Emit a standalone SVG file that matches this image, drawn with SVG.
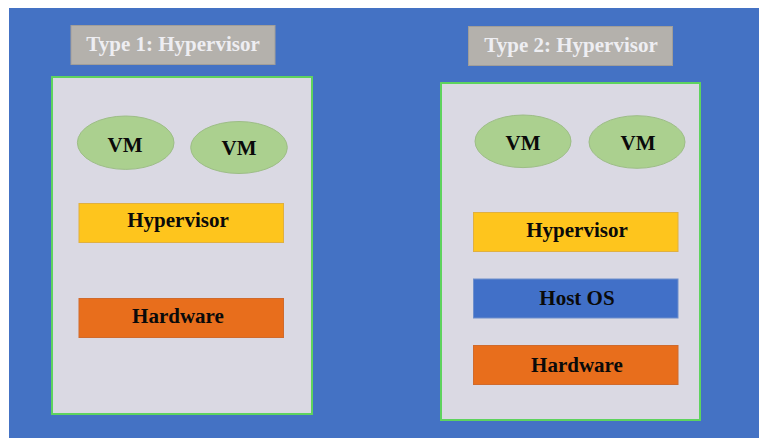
<svg xmlns="http://www.w3.org/2000/svg" width="759" height="438" viewBox="0 0 759 438">
  <style>
    .title-box { fill: #B4B1AC; stroke: #A19E99; stroke-width: 1; }
    .title { font-family: "Liberation Serif", "Times New Roman", serif; font-weight: bold; font-size: 21px; fill: #EEEEF2; text-anchor: middle; }
    .panel { fill: #DAD9E3; stroke: #5ED35E; stroke-width: 2; }
    .vm { fill: #ABD08F; stroke: #9DBD87; stroke-width: 1; }
    .layer-hv { fill: #FEC51D; stroke: #E0B040; stroke-width: 1; }
    .layer-hw { fill: #E86E1C; stroke: #D06A2C; stroke-width: 1; }
    .layer-os { fill: #4170C8; stroke: #6E8FCC; stroke-width: 1; }
    .label { font-family: "Liberation Serif", "Times New Roman", serif; font-weight: bold; font-size: 21px; fill: #0A0A0A; text-anchor: middle; }
  </style>

  <!-- page background -->
  <rect x="0" y="0" width="759" height="438" fill="#FFFFFF"/>
  <rect x="9" y="8" width="750" height="430" fill="#4472C4"/>

  <!-- Type 1 stack -->
  <g id="type1-title">
    <rect class="title-box" x="71" y="25.5" width="204" height="39"/>
    <text class="title" x="173" y="51">Type 1: Hypervisor</text>
  </g>
  <g id="type1-panel">
    <rect class="panel" x="52" y="77" width="260" height="337"/>
  </g>
  <g id="type1-vm1">
    <ellipse class="vm" cx="125.7" cy="142.7" rx="48.3" ry="26.7"/>
    <text class="label" x="125" y="151.5">VM</text>
  </g>
  <g id="type1-vm2">
    <ellipse class="vm" cx="239" cy="147.5" rx="48.3" ry="26"/>
    <text class="label" x="239" y="155">VM</text>
  </g>
  <g id="type1-hypervisor">
    <rect class="layer-hv" x="79" y="203.5" width="204.5" height="39"/>
    <text class="label" x="178" y="227">Hypervisor</text>
  </g>
  <g id="type1-hardware">
    <rect class="layer-hw" x="79" y="298.5" width="204.5" height="39"/>
    <text class="label" x="178" y="322.5">Hardware</text>
  </g>

  <!-- Type 2 stack -->
  <g id="type2-title">
    <rect class="title-box" x="468.5" y="26.5" width="204" height="39"/>
    <text class="title" x="571" y="52">Type 2: Hypervisor</text>
  </g>
  <g id="type2-panel">
    <rect class="panel" x="441" y="83" width="259" height="337"/>
  </g>
  <g id="type2-vm1">
    <ellipse class="vm" cx="523" cy="141.3" rx="48" ry="26.3"/>
    <text class="label" x="523" y="150">VM</text>
  </g>
  <g id="type2-vm2">
    <ellipse class="vm" cx="637" cy="142" rx="48" ry="26.3"/>
    <text class="label" x="638" y="150">VM</text>
  </g>
  <g id="type2-hypervisor">
    <rect class="layer-hv" x="473.5" y="212.5" width="204.5" height="39"/>
    <text class="label" x="577" y="236.5">Hypervisor</text>
  </g>
  <g id="type2-hostos">
    <rect class="layer-os" x="473.5" y="279" width="204.5" height="39"/>
    <text class="label" x="577" y="304.5">Host OS</text>
  </g>
  <g id="type2-hardware">
    <rect class="layer-hw" x="473.5" y="345.5" width="204.5" height="39"/>
    <text class="label" x="577" y="372">Hardware</text>
  </g>

  <!-- no connectors in this figure -->
  <g id="connectors"/>
</svg>
